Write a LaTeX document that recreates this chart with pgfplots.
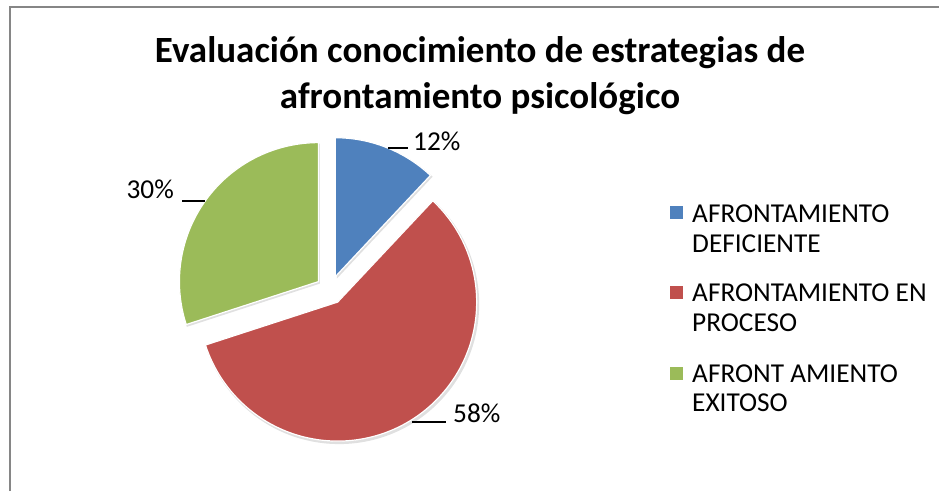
\documentclass[border=0pt]{standalone}
\usepackage{fontspec}
\setmainfont{Carlito}
\usepackage{pgfplots}
\usepackage{pgfplotstable}
\pgfplotsset{compat=1.18}
\usetikzlibrary{calc}

\definecolor{pblue}{HTML}{4F81BD}
\definecolor{pred}{HTML}{C0504D}
\definecolor{pgreen}{HTML}{9BBB59}
\definecolor{frame}{RGB}{134,134,134}

% percentages per category
\pgfplotstableread{
cat value
deficiente 12
proceso 58
exitoso 30
}\piedata

\begin{document}
\begin{tikzpicture}
\pgfplotstablegetelem{0}{value}\of\piedata \pgfmathtruncatemacro\va{\pgfplotsretval}
\pgfplotstablegetelem{1}{value}\of\piedata \pgfmathtruncatemacro\vb{\pgfplotsretval}
\pgfplotstablegetelem{2}{value}\of\piedata \pgfmathtruncatemacro\vc{\pgfplotsretval}
\pgfmathsetmacro\aA{90}
\pgfmathsetmacro\aB{\aA-3.6*\va}
\pgfmathsetmacro\aC{\aB-3.6*\vb}
\pgfmathsetmacro\aD{\aC-3.6*\vc}
\pgfmathsetmacro\mA{(\aA+\aB)/2}
\pgfmathsetmacro\mB{(\aB+\aC)/2}
\pgfmathsetmacro\mC{(\aC+\aD)/2}
\begin{axis}[
    x=1pt, y=1pt,
    xmin=0, xmax=939, ymin=0, ymax=491,
    y dir=reverse,
    hide axis, clip=false,
]
% frame
\draw[frame, line width=2pt] (axis cs:10,491) -- (axis cs:10,7) -- (axis cs:939,7);

% title
\node[anchor=base, font=\fontsize{37}{44}\selectfont\bfseries] at (axis cs:480,62)
    {Evaluación conocimiento de estrategias de};
\node[anchor=base, font=\fontsize{37}{44}\selectfont\bfseries] at (axis cs:480,108)
    {afrontamiento psicológico};

% soft shadows
\fill[black, opacity=0.12] ($(axis cs:331.5,292)+(\mA:14.3pt)$) -- ++(\aA:140pt)
    arc[start angle=\aA, end angle=\aB, radius=140pt] -- cycle;
\fill[black, opacity=0.12] ($(axis cs:331.5,292)+(\mB:14.3pt)$) -- ++(\aB:140pt)
    arc[start angle=\aB, end angle=\aC, radius=140pt] -- cycle;
\fill[black, opacity=0.12] ($(axis cs:331.5,292)+(\mC:14.3pt)$) -- ++(\aC:140pt)
    arc[start angle=\aC, end angle=\aD, radius=140pt] -- cycle;

% pie slices (exploded)
\fill[pblue, draw=white, line width=1.2pt] ($(axis cs:330,290)+(\mA:14.3pt)$) -- ++(\aA:139pt)
    arc[start angle=\aA, end angle=\aB, radius=139pt] -- cycle;
\fill[pred, draw=white, line width=1.2pt] ($(axis cs:330,290)+(\mB:14.3pt)$) -- ++(\aB:139pt)
    arc[start angle=\aB, end angle=\aC, radius=139pt] -- cycle;
\fill[pgreen, draw=white, line width=1.2pt] ($(axis cs:330,290)+(\mC:14.3pt)$) -- ++(\aC:139pt)
    arc[start angle=\aC, end angle=\aD, radius=139pt] -- cycle;

% data labels with leader lines
\draw[line width=1.3pt] (axis cs:388,148) -- (axis cs:408,148);
\node[anchor=base west, inner sep=0pt, font=\fontsize{27.3}{30}\selectfont] at (axis cs:413,150) {\va\%};
\draw[line width=1.3pt] (axis cs:182,201) -- (axis cs:205,201);
\node[anchor=base east, inner sep=0pt, font=\fontsize{27.3}{30}\selectfont] at (axis cs:174,198) {\vc\%};
\draw[line width=1.3pt] (axis cs:412,422) -- (axis cs:446,422);
\node[anchor=base west, inner sep=0pt, font=\fontsize{27.3}{30}\selectfont] at (axis cs:453,422) {\vb\%};

% legend
\fill[pblue] (axis cs:670,206) rectangle (axis cs:683,219);
\fill[pred] (axis cs:670,286) rectangle (axis cs:683,299);
\fill[pgreen] (axis cs:670,367) rectangle (axis cs:683,380);
\begin{scope}[every node/.style={anchor=base west, inner sep=0pt, font=\fontsize{27.3}{30}\selectfont}]
\node at (axis cs:692,222) {AFRONTAMIENTO};
\node at (axis cs:692,252) {DEFICIENTE};
\node at (axis cs:692,301) {AFRONTAMIENTO EN};
\node at (axis cs:692,331) {PROCESO};
\node at (axis cs:692,382) {AFRONT AMIENTO};
\node at (axis cs:692,411) {EXITOSO};
\end{scope}
\end{axis}
\pgfresetboundingbox
\path (current axis.south west) rectangle (current axis.north east);
\end{tikzpicture}
\end{document}
